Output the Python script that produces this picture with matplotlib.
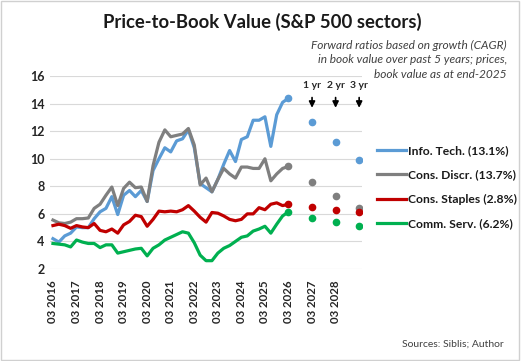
import numpy as np
import matplotlib.pyplot as plt
from matplotlib.patches import Rectangle

plt.rcParams['font.family'] = ['Lato', 'DejaVu Sans']

# Price-to-book, quarterly from 03 2016 (last point = end-2025 snapshot)
info_tech = [4.2, 3.95, 4.4, 4.6, 5.05, 5.0, 5.0, 5.65, 6.15, 6.4,
             7.25, 5.95, 7.35, 7.7, 7.25, 7.7, 6.9, 9.15, 10.0, 10.8,
             10.5, 11.3, 11.45, 12.1, 10.8, 8.2, 7.9, 7.6, 8.5, 9.6,
             10.6, 9.8, 11.4, 11.6, 12.8, 12.8, 13.05, 10.9, 13.2, 14.1,
             14.4]
cons_discr = [5.55, 5.35, 5.3, 5.4, 5.65, 5.65, 5.7, 6.4, 6.7, 7.35,
              7.95, 6.6, 7.85, 8.3, 7.9, 7.95, 6.9, 9.5, 11.2, 12.1,
              11.6, 11.7, 11.8, 12.2, 11.0, 8.1, 8.6, 7.6, 8.5, 9.3,
              8.9, 8.6, 9.4, 9.4, 9.3, 9.3, 10.0, 8.4, 8.9, 9.3,
              9.45]
cons_staples = [5.15, 5.25, 5.15, 4.95, 5.15, 5.05, 5.0, 5.3, 4.8, 4.7,
                4.9, 4.6, 5.2, 5.45, 5.9, 5.8, 5.1, 5.6, 6.2, 6.15,
                6.2, 6.15, 6.3, 6.6, 6.2, 5.75, 5.4, 6.1, 6.05, 5.85,
                5.6, 5.5, 5.6, 6.0, 6.0, 6.45, 6.3, 6.7, 6.8, 6.6,
                6.7]
comm_serv = [3.85, 3.8, 3.75, 3.6, 4.1, 3.95, 3.85, 3.85, 3.55, 3.75,
             3.75, 3.15, 3.25, 3.35, 3.45, 3.5, 2.95, 3.5, 3.75, 4.1,
             4.3, 4.5, 4.7, 4.6, 3.9, 3.0, 2.6, 2.6, 3.15, 3.5,
             3.7, 4.0, 4.3, 4.4, 4.75, 4.9, 5.1, 4.6, 5.25, 5.85,
             6.15]

# forward ratios, 1 / 2 / 3 years ahead
fwd_labels = ['1 yr', '2 yr', '3 yr']
fwd_info_tech = [12.7, 11.2, 9.9]
fwd_cons_discr = [8.3, 7.3, 6.4]
fwd_cons_staples = [6.5, 6.25, 6.15]
fwd_comm_serv = [5.7, 5.4, 5.1]

names = ['Info. Tech. (13.1%)', 'Cons. Discr. (13.7%)',
         'Cons. Staples (2.8%)', 'Comm. Serv. (6.2%)']
colors = ['#5B9BD5', '#7F7F7F', '#C00000', '#00B050']
years = list(range(2016, 2029))
tick_labels = ['03 ' + str(y) for y in years]

series = [info_tech, cons_discr, cons_staples, comm_serv]
forwards = [fwd_info_tech, fwd_cons_discr, fwd_cons_staples, fwd_comm_serv]

x = np.arange(len(info_tech))
x_fwd = x[-1] + 4 * np.arange(1, len(fwd_labels) + 1)

fig = plt.figure(figsize=(5.21, 3.61), dpi=100)
ax = fig.add_axes([0.096, 0.255, 0.599, 0.534])

for vals, fwd, col, name in zip(series, forwards, colors, names):
    ax.plot(x, vals, color=col, lw=2.3, marker='o', markersize=4.5,
            markevery=[len(vals) - 1], label=name, solid_joinstyle='round')
    ax.plot(x_fwd, fwd, 'o', color=col, markersize=4.5, lw=0)

# arrows over the forward points
for xf, lab in zip(x_fwd, fwd_labels):
    ax.annotate('', xy=(xf, 13.5), xytext=(xf, 14.65),
                arrowprops=dict(arrowstyle='-|>', color='black', lw=1.2,
                                mutation_scale=9), annotation_clip=False)
    ax.text(xf, 15.35, lab, ha='center', va='center', fontsize=7.5,
            fontweight='bold', color='#262626', clip_on=False)

ax.set_xlim(-0.5, 52.5)
ax.set_ylim(2, 16)
ax.set_yticks(range(2, 17, 2))
ax.set_xticks(np.arange(0, 49, 4))
ax.set_xticklabels(tick_labels, rotation=90, fontsize=8.3, fontweight='bold',
                   color='#262626')
for lab in ax.get_yticklabels():
    lab.set_fontsize(9)
    lab.set_fontweight('bold')
    lab.set_color('#262626')
ax.tick_params(axis='y', length=0, pad=4)
ax.tick_params(axis='x', length=0, pad=8)
ax.grid(axis='y', color='#D9D9D9', lw=0.8)
ax.set_axisbelow(True)
for s in ['top', 'right', 'left', 'bottom']:
    ax.spines[s].set_visible(False)

leg = ax.legend(loc='upper left', bbox_to_anchor=(0.724, 0.598),
                bbox_transform=fig.transFigure, frameon=False,
                borderpad=0, borderaxespad=0,
                handlelength=2.4, handletextpad=0.15, labelspacing=1.1,
                prop={'size': 8.7, 'weight': 'bold'})
for h in leg.legend_handles:
    h.set_marker('')
    h.set_linewidth(2.3)
for t in leg.get_texts():
    t.set_color('#1a1a1a')

fig.text(0.503, 0.94, 'Price-to-Book Value (S&P 500 sectors)', ha='center',
         va='center', fontsize=13.3, fontweight='bold', color='#1a1a1a')
fig.text(0.973, 0.834, 'Forward ratios based on growth (CAGR)\n'
         'in book value over past 5 years; prices,\nbook value as at end-2025',
         ha='right', va='center', fontsize=8.6, style='italic',
         color='#404040', linespacing=1.38)
fig.text(0.966, 0.047, 'Sources: Siblis; Author', ha='right', va='center',
         fontsize=7.5, color='#404040')

fig.patches.append(Rectangle((0.002, 0.003), 0.995, 0.993,
                             transform=fig.transFigure, fill=False,
                             edgecolor='#D0D0D0', lw=1))

fig.savefig('out.png', dpi=100)
